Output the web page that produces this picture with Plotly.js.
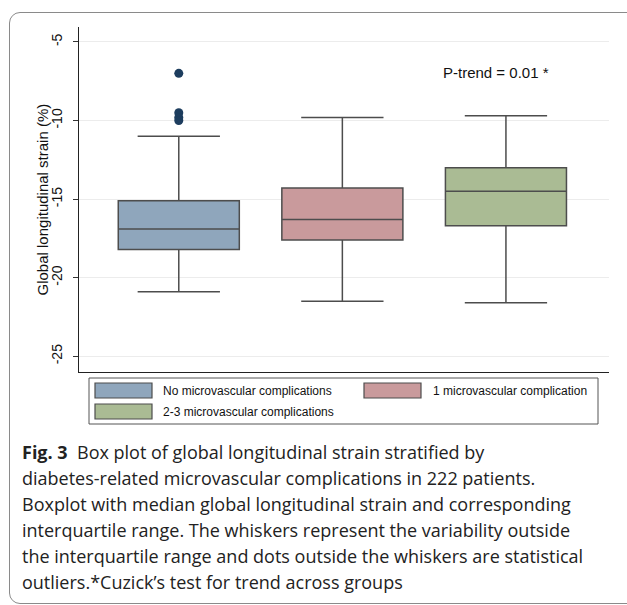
<!DOCTYPE html>
<html>
<head>
<meta charset="utf-8">
<script src="https://cdn.plot.ly/plotly-3.0.1.min.js"></script>
<style>
  html, body { margin: 0; padding: 0; background: #fff; overflow: hidden; }
  #wrap { position: relative; width: 627px; height: 605px; }
  #chart { position: absolute; left: 0; top: 0; width: 627px; height: 605px; }
  #frame { position: absolute; left: 9px; top: 12px; width: 660px; height: 592px;
           border: 1px solid #8a8a8a; border-radius: 11px; pointer-events: none; box-sizing: border-box; }
</style>
</head>
<body>
<div id="wrap">
  <div id="chart"></div>
  <div id="frame"></div>
</div>
<script>
// ---- data ----
const groups = ["No microvascular complications", "1 microvascular complication", "2-3 microvascular complications"];
const lowerWhisker = [-20.9, -21.5, -21.6];
const q1Values     = [-18.2, -17.6, -16.7];
const medianValues = [-16.9, -16.3, -14.5];
const q3Values     = [-15.1, -14.3, -13.0];
const upperWhisker = [-11.0, -9.8, -9.7];
const outlierGroup  = [groups[0], groups[0], groups[0], groups[0]];
const outlierValues = [-7.0, -9.5, -9.8, -10.0];
const yTicks = [-25, -20, -15, -10, -5];
const yTickText = ["-25", "-20", "-15", "-10", "-5"];
const yTitle = "Global longitudinal strain (%)";
const captionLines = [
  "<b>Fig. 3</b>  Box plot of global longitudinal strain stratified by",
  "diabetes-related microvascular complications in 222 patients.",
  "Boxplot with median global longitudinal strain and corresponding",
  "interquartile range. The whiskers represent the variability outside",
  "the interquartile range and dots outside the whiskers are statistical",
  "outliers.*Cuzick\u2019s test for trend across groups"
];

// ---- styles ----
const fills = ["#8fa6bc", "#c99a9c", "#aabb94"];
const edge = "#4d4d4d";
const arial = "Liberation Sans, Arial, sans-serif";

// geometry helpers (pixel -> paper)
const W = 627, H = 605;
const M = { l: 79, r: 18, t: 27, b: 233 };
const pw = W - M.l - M.r, ph = H - M.t - M.b;
const px = x => (x - M.l) / pw;
const py = y => (H - M.b - y) / ph;

const traces = groups.map((g, i) => ({
  type: "box",
  name: g,
  x: [g],
  q1: [q1Values[i]],
  median: [medianValues[i]],
  q3: [q3Values[i]],
  lowerfence: [lowerWhisker[i]],
  upperfence: [upperWhisker[i]],
  boxpoints: false,
  width: 0.74,
  whiskerwidth: 0.68,
  fillcolor: fills[i],
  line: { color: edge, width: 1.5 },
  showlegend: false,
  hoverinfo: "skip"
}));

traces.push({
  type: "scatter",
  mode: "markers",
  x: outlierGroup,
  y: outlierValues,
  marker: { color: "#1d3d5e", size: 9 },
  showlegend: false,
  hoverinfo: "skip"
});

const shapes = [];
const annotations = [];

// y axis title (placed precisely)
annotations.push({ xref: "paper", yref: "paper", x: px(42), y: 0.5,
  xanchor: "center", yanchor: "middle", textangle: -90, showarrow: false,
  text: yTitle, font: { family: arial, size: 15, color: "#111" } });

// legend box
shapes.push({ type: "rect", xref: "paper", yref: "paper",
  x0: px(89), x1: px(598), y0: py(424), y1: py(378),
  line: { color: "#555", width: 1 }, fillcolor: "rgba(0,0,0,0)" });
const legendPos = [
  { sx: 95, sy: 383, tx: 161, ty: 391 },
  { sx: 364, sy: 383, tx: 431, ty: 391 },
  { sx: 95, sy: 404, tx: 161, ty: 412 }
];
legendPos.forEach((p, i) => {
  shapes.push({ type: "rect", xref: "paper", yref: "paper",
    x0: px(p.sx), x1: px(p.sx + 57), y0: py(p.sy + 15), y1: py(p.sy),
    line: { color: edge, width: 1.2 }, fillcolor: fills[i] });
  annotations.push({ xref: "paper", yref: "paper", x: px(p.tx), y: py(p.ty),
    xanchor: "left", yanchor: "middle", showarrow: false, text: groups[i],
    font: { family: arial, size: 12, color: "#111" } });
});

// P-trend
annotations.push({ xref: "paper", yref: "paper", x: px(441), y: py(72),
  xanchor: "left", yanchor: "middle", showarrow: false, text: "P-trend = 0.01 *",
  font: { family: arial, size: 15, color: "#111" } });

// caption
captionLines.forEach((t, i) => {
  annotations.push({ xref: "paper", yref: "paper", x: px(20), y: py(452 + 26 * i),
    xanchor: "left", yanchor: "middle", showarrow: false, text: t,
    font: { family: "Open Sans, Noto Sans, sans-serif", size: 18, color: "#222" } });
});

const layout = {
  width: W, height: H,
  margin: M,
  paper_bgcolor: "#fff",
  plot_bgcolor: "#fff",
  boxmode: "overlay",
  xaxis: {
    type: "category",
    categoryarray: groups,
    range: [-0.61, 2.63],
    showticklabels: false,
    ticks: "",
    showgrid: false,
    zeroline: false,
    showline: true,
    linecolor: "#222",
    linewidth: 1.2
  },
  yaxis: {
    range: [-26, -4.05],
    tickvals: yTicks,
    ticktext: yTickText,
    tickangle: -90,
    ticks: "outside",
    ticklen: 5,
    tickcolor: "#333",
    ticklabelstandoff: 5,
    showgrid: true,
    gridcolor: "#ececec",
    gridwidth: 1,
    zeroline: false,
    showline: true,
    linecolor: "#222",
    linewidth: 1.2,
    tickfont: { family: arial, size: 14, color: "#111" }
  },
  shapes: shapes,
  annotations: annotations,
  showlegend: false
};

Plotly.newPlot("chart", traces, layout, { displayModeBar: false, staticPlot: true });
</script>
</body>
</html>
